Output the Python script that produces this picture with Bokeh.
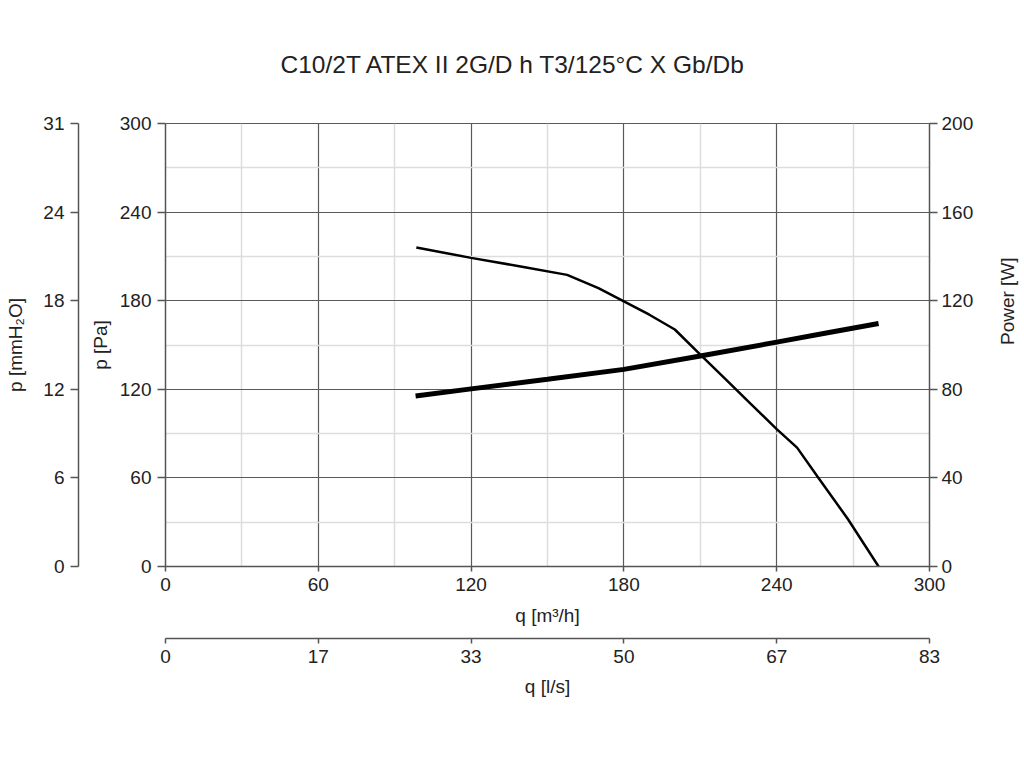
import math
from bokeh.plotting import figure
from bokeh.models import LinearAxis, Range1d, FixedTicker
from bokeh.embed import file_html
from bokeh.resources import INLINE

# ---- data ----
title_text = "C10/2T ATEX II 2G/D h T3/125°C X Gb/Db"

q_pressure = [98.5, 120, 140, 157.7, 170, 180, 190, 200, 210, 220, 230, 240, 248, 256, 268, 280]
p_pressure = [216, 209, 203, 197.5, 188.5, 179.6, 170.5, 160.5, 143.5, 126.7, 109.8, 93, 80.5, 61, 32, 0]

q_power = [98.2, 120, 150, 180, 210, 240, 260, 280]
w_power = [77, 80.2, 84.5, 89, 95, 101.3, 105.5, 109.7]

x_ticks = [0, 60, 120, 180, 240, 300]
x_minor = [30, 90, 150, 210, 270]
ls_labels = ["0", "17", "33", "50", "67", "83"]
y_ticks = [0, 60, 120, 180, 240, 300]
y_minor = [30, 90, 150, 210, 270]
mm_labels = ["0", "6", "12", "18", "24", "31"]
w_ticks = [0, 40, 80, 120, 160, 200]

FONT = "Liberation Sans"
TXT = "#222222"
AX = "#555555"
FS = "19px"

p = figure(frame_width=764, frame_height=443,
           x_range=Range1d(0, 300), y_range=Range1d(0, 300),
           output_backend="svg", toolbar_location=None,
           x_axis_location=None, y_axis_location=None,
           min_border_left=165, min_border_right=90, min_border_top=123, min_border_bottom=150,
           background_fill_color="white", border_fill_color="white")
p.extra_y_ranges = {"power": Range1d(0, 200)}

p.title.text = title_text
p.title.align = "left"
p.title.offset = 115
p.title.text_font = FONT
p.title.text_font_size = "24.5px"
p.title.text_font_style = "normal"
p.title.text_color = TXT
p.title.standoff = 92

p.outline_line_color = "#5a5a5a"

def style(ax, tick_out=8, lbl_standoff=6, axlbl_standoff=10):
    ax.axis_line_color = AX
    ax.axis_line_width = 1.5
    ax.major_tick_line_color = AX
    ax.major_tick_line_width = 1.5
    ax.major_tick_out = tick_out
    ax.major_tick_in = 0
    ax.minor_tick_line_color = None
    ax.major_label_text_font = FONT
    ax.major_label_text_font_size = FS
    ax.major_label_text_color = TXT
    ax.major_label_standoff = lbl_standoff
    ax.axis_label_text_font = FONT
    ax.axis_label_text_font_size = FS
    ax.axis_label_text_font_style = "normal"
    ax.axis_label_text_color = TXT
    ax.axis_label_standoff = axlbl_standoff

def spacer(size):
    # invisible axis used only to open a gap between stacked axes
    ax = LinearAxis(ticker=FixedTicker(ticks=[0]))
    ax.axis_line_color = None
    ax.major_tick_line_color = "white"
    ax.major_tick_line_width = 1
    ax.minor_tick_line_color = None
    ax.major_tick_out = size
    ax.major_tick_in = 0
    ax.major_label_standoff = 0
    ax.major_label_overrides = {0: ""}
    ax.major_label_text_font_size = "1px"
    return ax

# left axes
pa_axis = LinearAxis(ticker=FixedTicker(ticks=y_ticks), axis_label="p [Pa]")
style(pa_axis, 8, 6, 6)
p.add_layout(pa_axis, "left")
p.add_layout(spacer(8), "left")
mm_axis = LinearAxis(ticker=FixedTicker(ticks=y_ticks), axis_label="p [mmH₂O]")
style(mm_axis, 8, 6, 14)
mm_axis.major_label_overrides = {t: l for t, l in zip(y_ticks, mm_labels)}
p.add_layout(mm_axis, "left")

# right axis
w_axis = LinearAxis(y_range_name="power", ticker=FixedTicker(ticks=w_ticks), axis_label="Power [W]")
style(w_axis, 8, 4, 31)
w_axis.axis_label_orientation = math.pi / 2
p.add_layout(w_axis, "right")

# bottom axes
q_axis = LinearAxis(ticker=FixedTicker(ticks=x_ticks), axis_label="q [m³/h]")
style(q_axis, 5, 6, 11)
p.add_layout(q_axis, "below")
p.add_layout(spacer(10), "below")
ls_axis = LinearAxis(ticker=FixedTicker(ticks=x_ticks), axis_label="q [l/s]")
style(ls_axis, 5, 6, 10)
ls_axis.major_label_overrides = {t: l for t, l in zip(x_ticks, ls_labels)}
p.add_layout(ls_axis, "below")

# grids
p.xgrid.ticker = FixedTicker(ticks=x_ticks, minor_ticks=x_minor)
p.ygrid.ticker = FixedTicker(ticks=y_ticks, minor_ticks=y_minor)
for g in (p.xgrid, p.ygrid):
    g.grid_line_color = "#5a5a5a"
    g.grid_line_width = 1.2
    g.minor_grid_line_color = "#dddddd"
    g.minor_grid_line_width = 1.5
    g.level = "underlay"

p.line(q_pressure, p_pressure, line_color="black", line_width=2.5)
p.line(q_power, w_power, line_color="black", line_width=5, y_range_name="power")

open("out.html", "w").write(file_html(p, INLINE))
